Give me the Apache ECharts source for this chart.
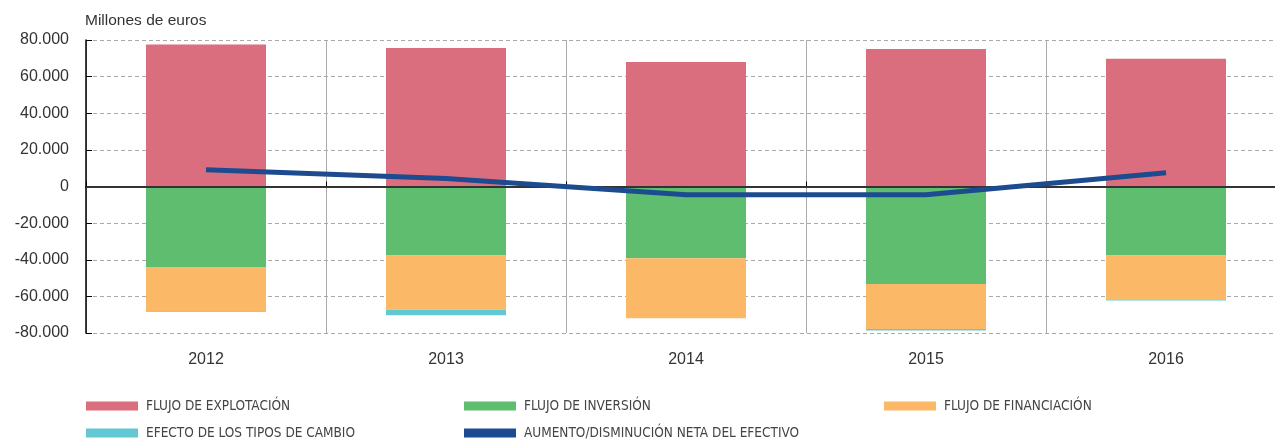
<!DOCTYPE html>
<html>
<head>
<meta charset="utf-8">
<script src="https://cdn.jsdelivr.net/npm/echarts@6/dist/echarts.min.js"></script>
<style>
html,body{margin:0;padding:0;background:#fff;}
#c{width:1275px;height:439px;}
</style>
</head>
<body>
<div id="c"></div>
<script>
const categories = ['2012', '2013', '2014', '2015', '2016'];
const flujoExplotacion = [77500, 75600, 68000, 75100, 69700];
const flujoInversion = [-44000, -37700, -39200, -53300, -37700];
const flujoFinanciacion = [-24000, -29600, -32800, -24500, -24300];
const efectoTiposCambio = [-400, -3000, 0, -900, -200];
const aumentoNeto = [9200, 4400, -4500, -4500, 7500];
const yTicks = [-80000, -60000, -40000, -20000, 0, 20000, 40000, 60000, 80000];
const seriesNames = ['FLUJO DE EXPLOTACIÓN', 'FLUJO DE INVERSIÓN', 'FLUJO DE FINANCIACIÓN', 'EFECTO DE LOS TIPOS DE CAMBIO', 'AUMENTO/DISMINUCIÓN NETA DEL EFECTIVO'];

const colors = ['#DB6E7E', '#5EBD6E', '#FBB867', '#62C8D3', '#1C4B8F'];

function fmt(v) {
  const s = String(Math.abs(v)).replace(/\B(?=(\d{3})+(?!\d))/g, '.');
  return (v < 0 ? '-' : '') + s;
}

const legendFont = {fontFamily: '"DejaVu Sans Condensed", "Liberation Sans", sans-serif', fontSize: 13.5, color: '#444', padding: [0, 0, 0, 3]};
const legendPos = [[86, 399], [464, 399], [884, 399], [86, 426], [464, 426]];
const legends = seriesNames.map((n, i) => ({
  data: [n], left: legendPos[i][0], top: legendPos[i][1], icon: 'rect',
  itemWidth: 52, itemHeight: 9, textStyle: legendFont, selectedMode: false, padding: 0
}));

const chart = echarts.init(document.getElementById('c'), null, {renderer: 'canvas'});
chart.setOption({
  animation: false,
  color: colors,
  title: {
    text: 'Millones de euros', left: 85, top: 13, padding: 0,
    textStyle: {fontFamily: '"Liberation Sans", Arial, sans-serif', fontSize: 15.5, fontWeight: 'normal', color: '#333'}
  },
  legend: legends,
  grid: {left: 86, top: 40, width: 1200, bottom: 106, containLabel: false, outerBoundsMode: 'none'},
  xAxis: {
    type: 'category', data: categories, boundaryGap: true,
    axisLine: {show: true, lineStyle: {color: '#000', width: 2}},
    axisTick: {show: true, inside: true, length: 5, lineStyle: {color: '#000', width: 1}},
    axisLabel: {fontFamily: '"Liberation Sans", Arial, sans-serif', fontSize: 16, color: '#333', margin: 19},
    splitLine: {show: true, lineStyle: {color: '#aaa', width: 1, type: 'solid'}}
  },
  yAxis: {
    type: 'value', min: yTicks[0], max: yTicks[yTicks.length - 1], interval: 20000,
    axisLine: {show: true, lineStyle: {color: '#000', width: 1.5}},
    axisTick: {show: true, inside: true, length: 6, lineStyle: {color: '#000'}},
    axisLabel: {fontFamily: '"Liberation Sans", Arial, sans-serif', fontSize: 16, color: '#333', margin: 17, formatter: fmt},
    splitLine: {show: true, lineStyle: {color: '#aaa', width: 1, type: [4, 3]}}
  },
  series: [
    {name: seriesNames[0], type: 'bar', stack: 'a', barWidth: '50%', data: flujoExplotacion,
     markLine: {silent: true, symbol: 'none', label: {show: false}, lineStyle: {color: '#333', width: 2, type: 'solid'}, data: [{yAxis: 0}]}},
    {name: seriesNames[1], type: 'bar', stack: 'a', barWidth: '50%', data: flujoInversion},
    {name: seriesNames[2], type: 'bar', stack: 'a', barWidth: '50%', data: flujoFinanciacion},
    {name: seriesNames[3], type: 'bar', stack: 'a', barWidth: '50%', data: efectoTiposCambio},
    {name: seriesNames[4], type: 'line', data: aumentoNeto, symbol: 'none', z: 5,
     lineStyle: {color: colors[4], width: 5}}
  ]
});
</script>
</body>
</html>
